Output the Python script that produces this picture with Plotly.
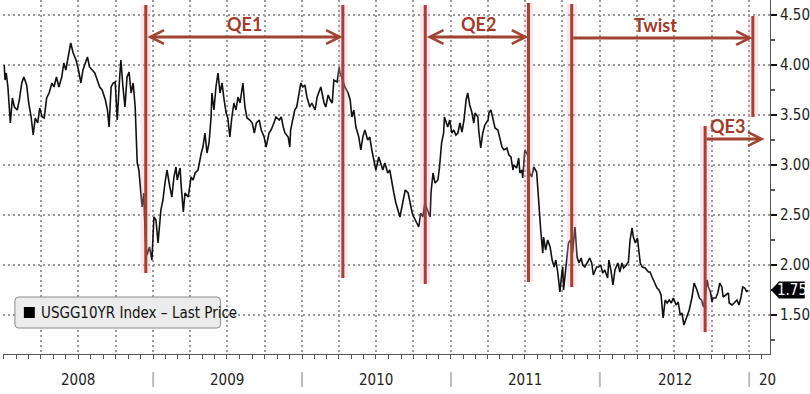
import plotly.graph_objects as go
import pandas as pd

# ---------------- data ----------------
d08 = ["2008-01-02","2008-01-04","2008-01-07","2008-01-11","2008-01-17","2008-01-22","2008-01-27",
       "2008-02-03","2008-02-08","2008-02-14","2008-02-19","2008-02-26",
       "2008-03-02","2008-03-08","2008-03-13","2008-03-18","2008-03-24","2008-03-29",
       "2008-04-04","2008-04-09","2008-04-15","2008-04-21","2008-04-28",
       "2008-05-03","2008-05-09","2008-05-15","2008-05-22","2008-05-27",
       "2008-06-01","2008-06-07","2008-06-13","2008-06-19","2008-06-26",
       "2008-07-02","2008-07-08","2008-07-13","2008-07-18","2008-07-24","2008-07-29",
       "2008-08-05","2008-08-11","2008-08-17","2008-08-23","2008-08-29",
       "2008-09-06","2008-09-11","2008-09-15","2008-09-20","2008-09-25","2008-09-30",
       "2008-10-05","2008-10-11","2008-10-14","2008-10-19","2008-10-24","2008-10-29",
       "2008-11-03","2008-11-08","2008-11-13","2008-11-18","2008-11-21","2008-11-23","2008-11-27",
       "2008-12-01","2008-12-05","2008-12-09","2008-12-13","2008-12-17","2008-12-23","2008-12-29"]
v08 = [4.00,3.85,3.92,3.78,3.42,3.67,3.58,
       3.55,3.65,3.82,3.88,3.80,
       3.62,3.48,3.30,3.47,3.42,3.57,
       3.48,3.47,3.67,3.72,3.82,
       3.78,3.88,3.78,3.88,4.02,
       3.95,4.07,4.22,4.12,4.05,
       3.95,3.82,3.95,4.02,4.08,3.98,
       3.95,3.92,3.85,3.78,3.75,
       3.65,3.55,3.38,3.78,3.82,3.83,
       3.45,3.88,4.05,3.78,3.58,3.88,
       3.93,3.72,3.82,3.58,3.28,3.02,2.95,
       2.78,2.58,2.72,2.25,2.10,2.18,2.05]

d09 = ["2009-01-03","2009-01-08","2009-01-13","2009-01-20","2009-01-25","2009-01-30",
       "2009-02-04","2009-02-11","2009-02-16","2009-02-21","2009-02-26",
       "2009-03-01","2009-03-08","2009-03-11","2009-03-16","2009-03-20","2009-03-28",
       "2009-04-04","2009-04-09","2009-04-14","2009-04-21","2009-04-29",
       "2009-05-03","2009-05-08","2009-05-13","2009-05-18","2009-05-23","2009-05-25","2009-05-30",
       "2009-06-04","2009-06-09","2009-06-14","2009-06-19","2009-06-24","2009-06-29",
       "2009-07-03","2009-07-08","2009-07-13","2009-07-18","2009-07-23","2009-07-28",
       "2009-08-02","2009-08-09","2009-08-14","2009-08-19","2009-08-26",
       "2009-09-01","2009-09-06","2009-09-11","2009-09-18","2009-09-23","2009-09-30",
       "2009-10-05","2009-10-12","2009-10-17","2009-10-24","2009-10-29",
       "2009-11-06","2009-11-11","2009-11-16","2009-11-20","2009-11-28",
       "2009-12-02","2009-12-04","2009-12-09","2009-12-14","2009-12-19","2009-12-24","2009-12-29"]
v09 = [2.48,2.45,2.22,2.55,2.65,2.82,
       2.95,2.78,2.68,2.88,2.98,
       2.85,2.97,2.78,2.53,2.72,2.68,
       2.88,2.85,2.92,2.95,3.12,
       3.18,3.32,3.12,3.22,3.48,3.72,3.55,
       3.78,3.92,3.72,3.82,3.65,3.52,
       3.47,3.28,3.48,3.62,3.55,3.68,
       3.62,3.82,3.58,3.47,3.45,
       3.42,3.32,3.42,3.45,3.35,3.28,
       3.18,3.32,3.35,3.42,3.48,
       3.45,3.48,3.38,3.32,3.28,
       3.18,3.35,3.45,3.55,3.58,3.72,3.82]

d10 = ["2010-01-03","2010-01-08","2010-01-13","2010-01-20","2010-01-25",
       "2010-02-02","2010-02-07","2010-02-14","2010-02-16","2010-02-24","2010-02-28",
       "2010-03-06","2010-03-11","2010-03-16","2010-03-20","2010-03-28",
       "2010-04-02","2010-04-04","2010-04-09","2010-04-16","2010-04-24","2010-04-29",
       "2010-05-03","2010-05-08","2010-05-13","2010-05-20","2010-05-25","2010-05-30",
       "2010-06-04","2010-06-11","2010-06-16","2010-06-21","2010-06-26",
       "2010-07-01","2010-07-08","2010-07-13","2010-07-18","2010-07-23","2010-07-30",
       "2010-08-04","2010-08-09","2010-08-14","2010-08-19","2010-08-26","2010-08-29",
       "2010-09-06","2010-09-11","2010-09-18","2010-09-23","2010-09-28",
       "2010-10-02","2010-10-09","2010-10-14","2010-10-19","2010-10-24","2010-10-29",
       "2010-11-06","2010-11-11","2010-11-13","2010-11-18","2010-11-23","2010-11-30",
       "2010-12-04","2010-12-09","2010-12-14","2010-12-16","2010-12-24","2010-12-29"]
v10 = [3.78,3.80,3.68,3.58,3.62,
       3.55,3.68,3.75,3.78,3.62,3.58,
       3.70,3.65,3.62,3.85,3.83,
       3.98,3.92,3.87,3.78,3.72,3.65,
       3.48,3.55,3.38,3.28,3.15,3.28,
       3.35,3.25,3.28,3.15,3.05,
       2.95,3.08,3.02,2.95,3.02,2.92,
       2.95,2.82,2.72,2.62,2.52,2.48,
       2.65,2.75,2.72,2.62,2.52,
       2.48,2.42,2.38,2.52,2.48,2.62,
       2.52,2.48,2.72,2.92,2.82,2.85,
       2.98,3.22,3.32,3.48,3.38,3.45]

d11 = ["2011-01-03","2011-01-08","2011-01-13","2011-01-18","2011-01-23","2011-01-28",
       "2011-02-02","2011-02-07","2011-02-11","2011-02-16","2011-02-21","2011-02-26",
       "2011-03-01","2011-03-08","2011-03-10","2011-03-15","2011-03-20","2011-03-25",
       "2011-04-02","2011-04-04","2011-04-09","2011-04-14","2011-04-19","2011-04-26",
       "2011-05-01","2011-05-06","2011-05-11","2011-05-18","2011-05-23","2011-05-28",
       "2011-06-02","2011-06-04","2011-06-11","2011-06-16","2011-06-19","2011-06-24","2011-06-26",
       "2011-07-01","2011-07-08","2011-07-13","2011-07-18","2011-07-23","2011-07-30",
       "2011-08-04","2011-08-09","2011-08-14","2011-08-16","2011-08-21","2011-08-26",
       "2011-09-01","2011-09-06","2011-09-11","2011-09-15","2011-09-20","2011-09-25","2011-09-30",
       "2011-10-02","2011-10-04","2011-10-11","2011-10-16","2011-10-21","2011-10-26",
       "2011-11-01","2011-11-06","2011-11-11","2011-11-16","2011-11-20","2011-11-25",
       "2011-12-02","2011-12-07","2011-12-12","2011-12-16","2011-12-24","2011-12-29"]
v11 = [3.32,3.35,3.30,3.32,3.42,3.33,
       3.45,3.65,3.72,3.60,3.53,3.42,
       3.52,3.48,3.35,3.17,3.32,3.40,
       3.45,3.52,3.55,3.45,3.37,3.35,
       3.25,3.18,3.15,3.17,3.10,3.08,
       2.95,3.00,2.97,3.07,2.92,2.95,2.87,
       3.15,3.10,2.92,2.88,2.98,2.93,
       2.62,2.35,2.12,2.28,2.15,2.25,
       2.18,2.05,1.98,2.05,1.92,1.73,1.93,
       1.98,1.75,2.05,2.22,2.25,2.12,
       2.38,2.08,2.02,2.07,2.00,1.98,
       2.03,2.07,2.02,1.90,1.98,1.98]

d12 = ["2012-01-03","2012-01-08","2012-01-13","2012-01-20","2012-01-23","2012-01-28",
       "2012-02-02","2012-02-07","2012-02-14","2012-02-19","2012-02-24","2012-02-28",
       "2012-03-06","2012-03-11","2012-03-15","2012-03-20","2012-03-23","2012-03-28",
       "2012-04-02","2012-04-04","2012-04-09","2012-04-14","2012-04-21","2012-04-29",
       "2012-05-03","2012-05-08","2012-05-13","2012-05-20","2012-05-25","2012-05-30",
       "2012-06-04","2012-06-09","2012-06-14","2012-06-19","2012-06-24","2012-06-29",
       "2012-07-06","2012-07-11","2012-07-16","2012-07-20","2012-07-25",
       "2012-08-02","2012-08-07","2012-08-14","2012-08-19","2012-08-26",
       "2012-09-01","2012-09-06","2012-09-11","2012-09-15","2012-09-20","2012-09-23","2012-09-28",
       "2012-10-02","2012-10-04","2012-10-11","2012-10-16","2012-10-21","2012-10-26","2012-10-29",
       "2012-11-06","2012-11-11","2012-11-13","2012-11-20","2012-11-25",
       "2012-12-02","2012-12-07","2012-12-12","2012-12-16","2012-12-21","2012-12-26","2012-12-28"]
v12 = [2.00,1.92,1.95,1.87,2.05,1.95,
       1.80,1.95,2.02,1.93,2.02,1.97,
       2.00,2.03,2.25,2.37,2.28,2.22,
       2.27,2.18,2.02,1.98,1.97,1.93,
       1.93,1.88,1.83,1.77,1.75,1.70,
       1.47,1.65,1.62,1.65,1.62,1.67,
       1.60,1.63,1.50,1.52,1.40,
       1.50,1.55,1.68,1.82,1.75,
       1.67,1.65,1.58,1.68,1.85,1.78,1.73,
       1.63,1.67,1.67,1.72,1.82,1.78,1.68,
       1.70,1.72,1.62,1.60,1.62,
       1.65,1.60,1.68,1.78,1.77,1.73,1.75]

# Fed programmes annotated on the chart
programs = ["QE1", "QE2", "Twist", "QE3"]
prog_start = ["2008-12-14", "2010-10-30", "2011-10-24", "2012-09-15"]
prog_end = ["2010-04-11", "2011-07-10", "2013-01-10", "2013-02-08"]

year_labels = ["2008", "2009", "2010", "2011", "2012"]
ytick_vals = [1.5, 2.0, 2.5, 3.0, 3.5, 4.0, 4.5]
ytick_text = ["1.50", "2.00", "2.50", "3.00", "3.50", "4.00", "4.50"]
series_name = "USGG10YR Index – Last Price"

# ---------------- build ----------------
dates = d08 + d09 + d10 + d11 + d12
yields = v08 + v09 + v10 + v11 + v12
assert len(dates) == len(yields)

NARROW = "Liberation Sans Narrow, DejaVu Sans Condensed, Arial Narrow, sans-serif"
ANN = "#9E4430"
TXT = "#A23B2A"
HALO = "rgba(255,170,210,0.30)"
GRID = "#9a9a9a"

fig = go.Figure()
fig.add_trace(go.Scatter(x=dates, y=yields, mode="lines",
                         line=dict(color="#111111", width=1.6),
                         name=series_name, showlegend=False, hoverinfo="skip"))

shapes = []
annotations = []

def vline(date, y0, y1, width=3):
    shapes.append(dict(type="line", xref="x", yref="y", x0=date, x1=date, y0=y0, y1=y1,
                       line=dict(color=HALO, width=width + 7), layer="above"))
    shapes.append(dict(type="line", xref="x", yref="y", x0=date, x1=date, y0=y0, y1=y1,
                       line=dict(color=ANN, width=width), layer="above"))

# vertical programme boundaries
vline(prog_start[0], 1.92, 4.60)
vline(prog_end[0], 1.87, 4.60)
vline(prog_start[1], 1.81, 4.60)
vline(prog_end[1], 1.83, 4.62)
vline(prog_start[2], 1.78, 4.61)
vline(prog_end[2], 3.48, 4.49)
vline(prog_start[3], 1.33, 3.39)

arrow_y = [4.28, 4.28, 4.27, 3.26]
double = [True, True, False, False]
label_shift = [0, 2, -7, -7]
for name, s, e, ay, dbl, sh in zip(programs, prog_start, prog_end, arrow_y, double, label_shift):
    annotations.append(dict(x=e, y=ay, ax=s, ay=ay, xref="x", yref="y", axref="x", ayref="y",
                            text="", showarrow=True, arrowhead=5, startarrowhead=5,
                            arrowside="end+start" if dbl else "end",
                            arrowsize=0.9, startarrowsize=0.9, arrowwidth=3,
                            arrowcolor=ANN, standoff=0, startstandoff=0))
    mid = pd.Timestamp(s) + (pd.Timestamp(e) - pd.Timestamp(s)) / 2
    annotations.append(dict(x=mid, y=ay + 0.135, xref="x", yref="y", text=name, showarrow=False,
                            xshift=sh, yanchor="middle",
                            font=dict(family="Lato, Open Sans, sans-serif", size=18,
                                      color=TXT, weight="bold")))

# year labels and dividers under the axis
for yl in year_labels:
    annotations.append(dict(x=f"{yl}-07-02", y=0, xref="x", yref="paper", yshift=-26,
                            text=yl, showarrow=False, yanchor="middle",
                            font=dict(family=NARROW, size=15, color="#222222")))
    nxt = str(int(yl) + 1)
    shapes.append(dict(type="line", xref="x", yref="paper", x0=f"{nxt}-01-01", x1=f"{nxt}-01-01",
                       y0=-0.051, y1=-0.093, line=dict(color="#bbbbbb", width=2)))
annotations.append(dict(x="2013-01-01", y=0, xref="x", yref="paper", yshift=-26, xshift=8,
                        text="20", showarrow=False, xanchor="left", yanchor="middle",
                        font=dict(family=NARROW, size=15, color="#222222")))

# legend box
x0, x1, y0, y1 = 0.0155, 0.2837, 0.0734, 0.161
rx, ry = 0.005, 0.011
shapes.append(dict(type="path", xref="paper", yref="paper",
                   path=(f"M {x0+rx},{y0} L {x1-rx},{y0} Q {x1},{y0} {x1},{y0+ry} "
                         f"L {x1},{y1-ry} Q {x1},{y1} {x1-rx},{y1} L {x0+rx},{y1} "
                         f"Q {x0},{y1} {x0},{y1-ry} L {x0},{y0+ry} Q {x0},{y0} {x0+rx},{y0} Z"),
                   fillcolor="#ececec", line=dict(color="#8a8a8a", width=1)))
shapes.append(dict(type="rect", xref="paper", yref="paper", x0=0.0272, x1=0.0415,
                   y0=0.1017, y1=0.1328, fillcolor="#000000", line=dict(width=0)))
annotations.append(dict(x=0.0466, y=0.1158, xref="paper", yref="paper", text=series_name,
                        showarrow=False, xanchor="left", yanchor="middle",
                        font=dict(family=NARROW, size=15, color="#111111")))

# last price tag
last = yields[-1]
h = 0.085
shapes.append(dict(type="path", xref="paper", yref="y",
                   path=(f"M 1.0013,{last} L 1.0117,{last+h} L 1.0453,{last+h} "
                         f"L 1.0453,{last-h} L 1.0117,{last-h} Z"),
                   fillcolor="#000000", line=dict(width=0)))
annotations.append(dict(x=1.0285, y=last, xref="paper", yref="y", text=f"{last:.2f}",
                        showarrow=False, xanchor="center", yanchor="middle",
                        font=dict(family=NARROW, size=15, color="#ffffff")))

fig.update_layout(
    width=810, height=394,
    margin=dict(l=3, r=35, t=0, b=40),
    paper_bgcolor="white", plot_bgcolor="white",
    shapes=shapes, annotations=annotations,
    showlegend=False,
    xaxis=dict(type="date", range=["2007-12-30", "2013-02-21"],
               showgrid=True, gridcolor=GRID, griddash="2px,3px", gridwidth=1.6,
               dtick="M3", tick0="2008-01-01",
               ticks="outside", ticklen=4, tickcolor="#555555",
               showticklabels=False, showline=True, linecolor="#555555", linewidth=1,
               zeroline=False,
               minor=dict(dtick="M1", tick0="2008-01-01", ticks="outside", ticklen=4,
                          tickcolor="#555555", showgrid=False)),
    yaxis=dict(side="right", range=[1.11, 4.65],
               tickvals=ytick_vals, ticktext=ytick_text,
               showgrid=True, gridcolor=GRID, griddash="2px,3px", gridwidth=1.6,
               ticks="outside", ticklen=6, tickwidth=2, tickcolor="#111111",
               showline=True, linecolor="#555555", linewidth=1, zeroline=False,
               tickfont=dict(family=NARROW, size=15, color="#222222"),
               minor=dict(dtick=0.25, tick0=1.5, ticks="outside", ticklen=4,
                          tickcolor="#555555", showgrid=False)),
)

fig.write_html("out.html", config={"displayModeBar": False},
               post_script="document.body.style.margin='0px';")
